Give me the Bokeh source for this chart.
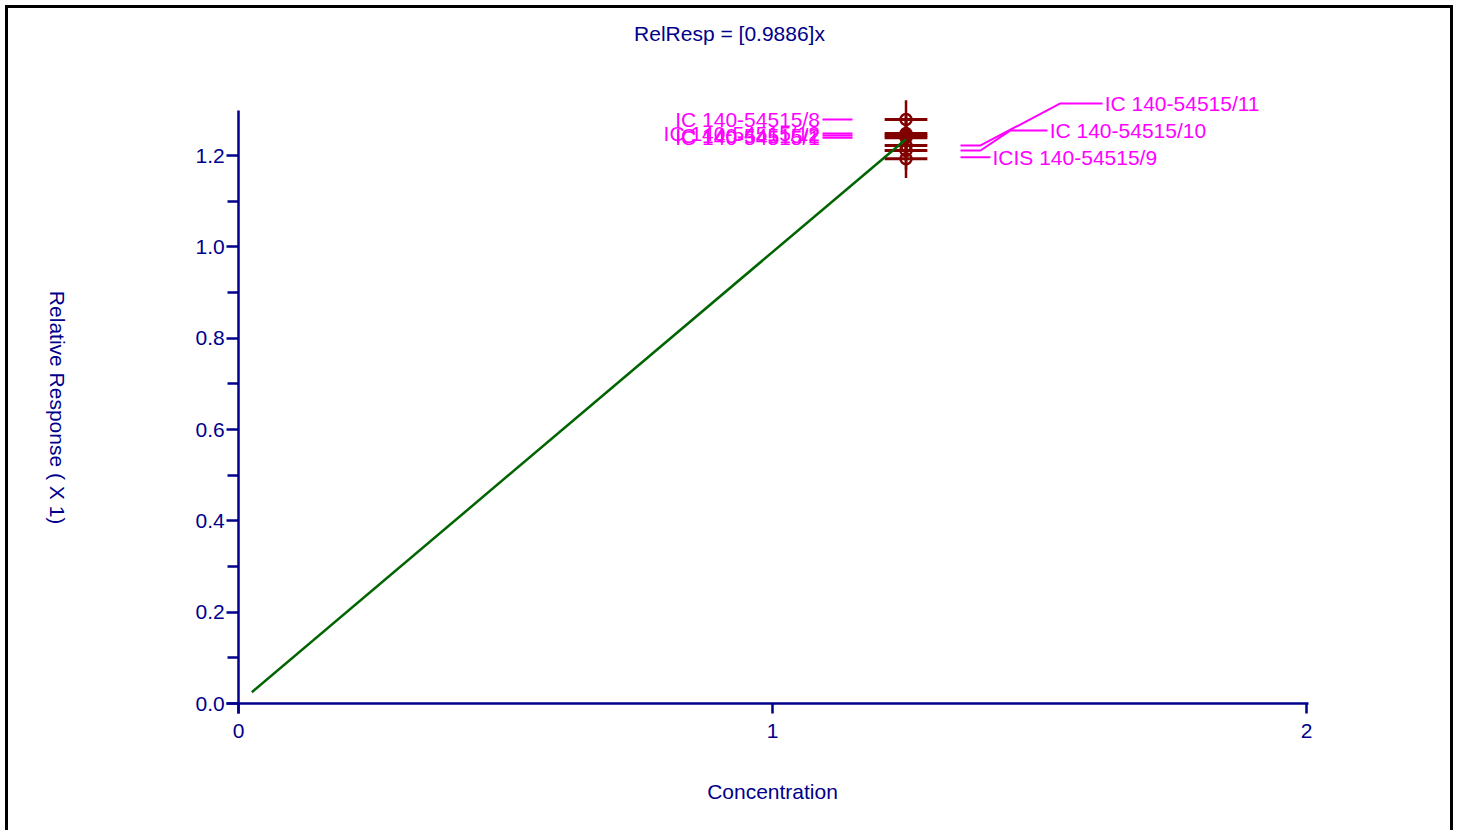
import numpy as np
from bokeh.plotting import figure
from bokeh.models import (ColumnDataSource, LabelSet, Label, FixedTicker, PrintfTickFormatter,
                          Range1d, LinearAxis)
from bokeh.embed import file_html
from bokeh.resources import INLINE
from bokeh.core.properties import value

# ---------------- data ----------------
sample_names = ["IC 140-54515/8", "IC 140-54515/12", "IC 140-54515/2", "IC 140-54515/1",
                "IC 140-54515/11", "IC 140-54515/10", "ICIS 140-54515/9"]
concentration = [1.25, 1.25, 1.25, 1.25, 1.25, 1.25, 1.25]
rel_response = [1.279, 1.248, 1.244, 1.239, 1.222, 1.211, 1.193]
conc_err = [0.04, 0.04, 0.04, 0.04, 0.04, 0.04, 0.04]
resp_err = [0.042, 0.042, 0.042, 0.042, 0.042, 0.042, 0.042]
slope = 0.9886
fit_conc = [0.025, 1.25]
x_ticks = [0, 1, 2]
y_ticks = [0.0, 0.2, 0.4, 0.6, 0.8, 1.0, 1.2]
y_minor_ticks = [0.1, 0.3, 0.5, 0.7, 0.9, 1.1]
title_text = "RelResp = [0.9886]x"
x_title = "Concentration"
y_title = "Relative Response ( X 1)"

# ---------------- label layout (positions only) ----------------
label_x = [1.089, 1.089, 1.089, 1.089, 1.622, 1.519, 1.412]
label_y = rel_response[:4] + [1.314, 1.255, 1.196]
label_align = ["right"] * 4 + ["left"] * 3
leader_xs = [[1.0936, 1.1498]] * 4 + [
    [1.352, 1.3895, 1.539, 1.618],
    [1.352, 1.3895, 1.4457, 1.515],
    [1.352, 1.408],
]
leader_ys = [[y, y] for y in rel_response[:4]] + [
    [rel_response[4], rel_response[4], 1.314, 1.314],
    [rel_response[5], rel_response[5], 1.255, 1.255],
    [1.196, 1.196],
]

AXIS = "#00008B"
MAG = "#FF00FF"
RED = "#800000"
GREEN = "#006400"
FONT = "Liberation Sans"
FS = "21px"

p = figure(width=1448, height=825,
           x_range=Range1d(-0.40824, 2.0449), y_range=Range1d(-0.28467, 1.5088),
           output_backend="svg", toolbar_location=None,
           x_axis_location=None, y_axis_location=None,
           min_border_left=12, min_border_right=126, min_border_top=6, min_border_bottom=0)
p.styles = {"border": "3px solid black", "border-bottom-width": "0px",
            "margin-left": "5px", "margin-top": "5px"}
p.outline_line_color = None
p.xgrid.visible = False
p.ygrid.visible = False
p.background_fill_color = "white"
p.border_fill_color = "white"

# axes drawn through the origin inside the frame (lines cross slightly at the origin)
yax = LinearAxis(fixed_location=0,
                 ticker=FixedTicker(ticks=y_ticks, minor_ticks=y_minor_ticks),
                 formatter=PrintfTickFormatter(format="%.1f"),
                 bounds=(-0.022, 1.2985))
p.add_layout(yax, "right")
xax = LinearAxis(fixed_location=0, ticker=FixedTicker(ticks=x_ticks),
                 bounds=(-0.0225, 2.0037))
p.add_layout(xax, "above")

for ax in (xax, yax):
    ax.axis_line_color = AXIS
    ax.axis_line_width = 2.5
    ax.major_tick_line_color = AXIS
    ax.major_tick_line_width = 2.5
    ax.minor_tick_line_color = AXIS
    ax.minor_tick_line_width = 2.5
    ax.major_label_text_color = AXIS
    ax.major_label_text_font = FONT
    ax.major_label_text_font_size = FS

xax.major_tick_in = 10
xax.major_tick_out = 0
xax.minor_tick_in = 0
xax.minor_tick_out = 0
xax.major_label_standoff = -34

yax.major_tick_in = 12
yax.major_tick_out = 0
yax.minor_tick_in = 11
yax.minor_tick_out = 0
yax.major_label_standoff = -43

# error bars
cx = np.array(concentration)
ry = np.array(rel_response)
ex = np.array(conc_err)
ey = np.array(resp_err)
p.segment(x0=cx - ex, y0=ry, x1=cx + ex, y1=ry, line_color=RED, line_width=3)
p.segment(x0=cx, y0=ry - ey, x1=cx, y1=ry + ey, line_color=RED, line_width=2.5)
p.scatter(x=concentration, y=rel_response, marker="circle", size=11,
          fill_color=None, line_color=RED, line_width=2.5)

# fit line
fx = np.array(fit_conc)
p.line(x=fx, y=slope * fx, line_color=GREEN, line_width=2.5)

# leaders and labels
p.multi_line(xs=leader_xs, ys=leader_ys, line_color=MAG, line_width=2)
src = ColumnDataSource(dict(x=label_x, y=label_y, text=sample_names, align=label_align))
p.add_layout(LabelSet(x="x", y="y", text="text", source=src, text_align="align",
                      text_baseline="middle", text_color=MAG,
                      text_font=value(FONT), text_font_size=FS))

p.add_layout(Label(x=0.9195, y=1.467, text=title_text, text_align="center",
                   text_baseline="middle", text_color=AXIS, text_font=FONT, text_font_size=FS))
p.add_layout(Label(x=-0.339, y=0.648, text=y_title, text_align="center", angle=-np.pi / 2,
                   text_baseline="middle", text_color=AXIS, text_font=FONT, text_font_size=FS))
p.add_layout(Label(x=1.0, y=-0.1927, text=x_title, text_align="center",
                   text_baseline="middle", text_color=AXIS, text_font=FONT, text_font_size=FS))

open("out.html", "w").write(file_html(p, INLINE))
